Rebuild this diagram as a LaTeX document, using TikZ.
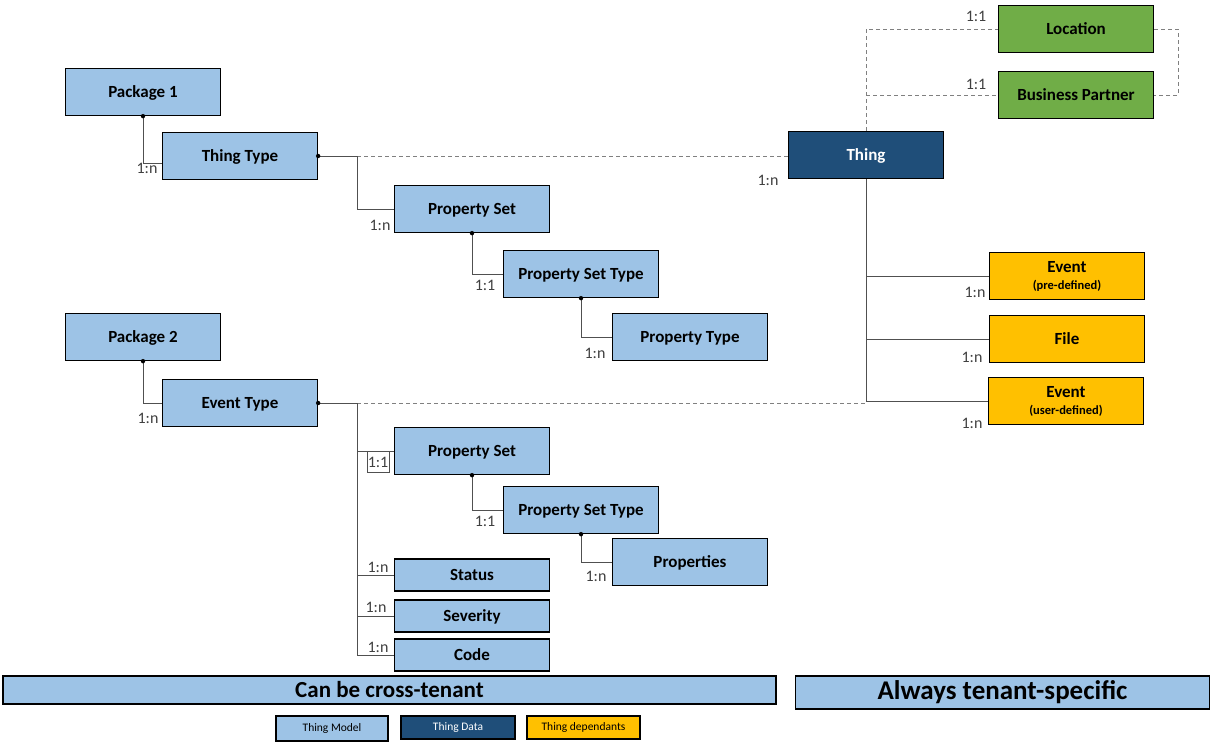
\documentclass[tikz,border=0pt]{standalone}
\usepackage{fontspec}
\setmainfont{Carlito}
\usetikzlibrary{calc}
\definecolor{lightbox}{HTML}{9DC3E6}
\definecolor{darkbox}{HTML}{1F4E79}
\definecolor{greenbox}{HTML}{70AD47}
\definecolor{yellowbox}{HTML}{FFC000}
\definecolor{linegray}{HTML}{505050}
\definecolor{dashgray}{HTML}{808080}
\definecolor{labelgray}{HTML}{404040}
\begin{document}
\begin{tikzpicture}[x=1pt,y=-1pt,
  box/.style={draw=black, line width=1.3pt, minimum width=155pt, minimum height=47pt, inner sep=0pt,
    font=\fontsize{17}{19}\selectfont\bfseries, align=center},
  capc/.style={text height=11pt, text depth=0pt},
  model/.style={box, capc, fill=lightbox},
  smallmodel/.style={model, minimum height=32pt},
  data/.style={box, capc, fill=darkbox, text=white},
  green/.style={box, capc, fill=greenbox},
  dep/.style={box, fill=yellowbox},
  conn/.style={draw=linegray, line width=0.9pt},
  dashline/.style={draw=dashgray, line width=0.9pt, dash pattern=on 4pt off 3pt},
  lab/.style={font=\fontsize{16}{18}\selectfont, text=labelgray, inner sep=0pt},
  dotpt/.style={fill=black},
  legend/.style={draw=black, line width=1.3pt, inner sep=0pt, minimum height=23pt, font=\fontsize{11.5}{13}\selectfont}
]
\useasboundingbox (0,0) rectangle (1210,742);
\fill[white] (0,0) rectangle (1210,742);

% Thing model (upper)
\node[model] (p1) at (143,92) {Package 1};
\node[model] (tt) at (240,156) {Thing Type};
\node[model] (ps1) at (472,209) {Property Set};
\node[model] (pst1) at (581,274) {Property Set Type};
\node[model] (pt) at (690,337) {Property Type};

% Thing model (lower)
\node[model] (p2) at (143,337) {Package 2};
\node[model] (et) at (240,403) {Event Type};
\node[model] (ps2) at (472,451) {Property Set};
\node[model] (pst2) at (581,510) {Property Set Type};
\node[model] (prop) at (690,562) {Properties};
\node[smallmodel] (status) at (472,575) {Status};
\node[smallmodel] (sev) at (472,616) {Severity};
\node[smallmodel] (code) at (472,655) {Code};

% Thing data and dependants
\node[data] (thing) at (866,155) {Thing};
\node[green] (loc) at (1076,29) {Location};
\node[green] (bp) at (1076,95) {Business Partner};
\node[dep] (ev1) at (1067,276) {Event\\[-2pt]{\fontsize{12.5}{14}\selectfont (pre-defined)}};
\node[dep, capc] (file) at (1067,339) {File};
\node[dep] (ev2) at (1066,401) {Event\\[-2pt]{\fontsize{12.5}{14}\selectfont (user-defined)}};

% junction coordinates
\coordinate (j1) at (357,156);
\coordinate (j2) at (357,403);

% upper connectors
\draw[conn] (p1.south) |- ([yshift=-7pt]tt.west);
\draw[conn] (tt.east) -- (j1);
\draw[dashline] (j1) -- (j1 -| thing.west);
\draw[conn] (j1) |- (ps1.west);
\draw[conn] (ps1.south) |- (pst1.west);
\draw[conn] (pst1.south) |- (pt.west);
\fill[dotpt] (p1.south) circle (2.2pt);
\fill[dotpt] (tt.east) circle (2.2pt);
\fill[dotpt] (ps1.south) circle (2.2pt);
\fill[dotpt] (pst1.south) circle (2.2pt);

% lower connectors
\draw[conn] (p2.south) |- (et.west);
\draw[conn] (et.east) -- (j2);
\draw[dashline] (j2) -- (j2 -| thing.south);
\draw[conn] (j2) |- (code.west);
\draw[conn] (j2 |- ps2.west) -- (ps2.west);
\draw[conn] (j2 |- status.west) -- (status.west);
\draw[conn] (j2 |- sev.west) -- (sev.west);
\draw[conn] (ps2.south) |- (pst2.west);
\draw[conn] (pst2.south) |- (prop.west);
\fill[dotpt] (p2.south) circle (2.2pt);
\fill[dotpt] (et.east) circle (2.2pt);
\fill[dotpt] (ps2.south) circle (2.2pt);
\fill[dotpt] (pst2.south) circle (2.2pt);

% thing connectors
\draw[dashline] (thing.north) |- (loc.west);
\draw[dashline] (thing.north |- bp.west) -- (bp.west);
\draw[dashline] (loc.east) -- ++(24,0) |- (bp.east);
\draw[conn] (thing.south) |- (ev1.west);
\draw[conn] (thing.south |- file.west) -- (file.west);
\draw[conn] (thing.south) |- (ev2.west);

% cardinality labels
\node[lab] (l-tt) at (147,168) {1:n};
\node[lab] (l-ps1) at (380,225) {1:n};
\node[lab] (l-pst1) at (485,285) {1:1};
\node[lab] (l-pt) at (595,353) {1:n};
\node[lab] (l-thing) at (768,180) {1:n};
\node[lab] (l-loc) at (976,16) {1:1};
\node[lab] (l-bp) at (976,84) {1:1};
\node[lab] (l-ev1) at (975,292) {1:n};
\node[lab] (l-file) at (972,357) {1:n};
\node[lab] (l-ev2) at (972,423) {1:n};
\node[lab] (l-et) at (148,418) {1:n};
\node[lab, draw=linegray, line width=0.6pt, minimum width=22pt, minimum height=21pt] (l-ps2) at (378,462) {1:1};
\node[lab] (l-pst2) at (485,521) {1:1};
\node[lab] (l-prop) at (596,576) {1:n};
\node[lab] (l-status) at (378,567) {1:n};
\node[lab] (l-sev) at (376,607) {1:n};
\node[lab] (l-code) at (378,647) {1:n};

% bars
\node[draw=black, line width=1.3pt, fill=lightbox, minimum width=773pt, minimum height=28pt, inner sep=0pt,
  font=\fontsize{23}{26}\selectfont\bfseries] (cross) at (389.5,690) {Can be cross-tenant};
\node[draw=black, line width=1.3pt, fill=lightbox, minimum width=414pt, minimum height=33pt, inner sep=0pt,
  font=\fontsize{27}{30}\selectfont\bfseries] (always) at (1002.5,692.5) {Always tenant-specific};

% legend
\node[legend, fill=lightbox, minimum width=112pt, minimum height=25pt] (lg-model) at (332,728.5) {Thing Model};
\node[legend, fill=darkbox, text=white, minimum width=114pt] (lg-data) at (458,727.5) {Thing Data};
\node[legend, fill=yellowbox, minimum width=113pt] (lg-dep) at (583.5,727.5) {Thing dependants};
\end{tikzpicture}
\end{document}
